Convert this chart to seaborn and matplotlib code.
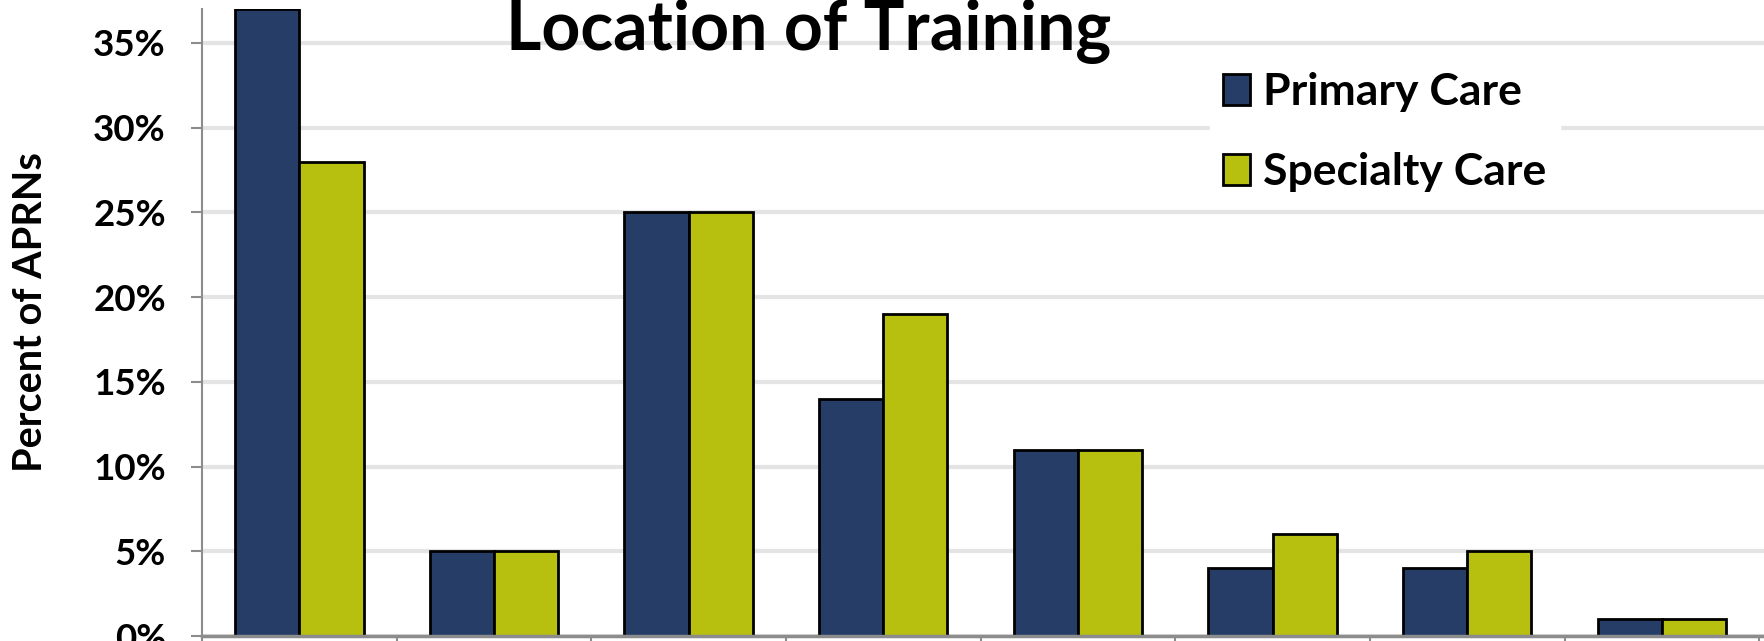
import numpy as np
import pandas as pd
import matplotlib
matplotlib.use('Agg')
import matplotlib.pyplot as plt
import seaborn as sns

# ------------------------
# Data (percent of APRNs)
# ------------------------
categories = ['Loc 1', 'Loc 2', 'Loc 3', 'Loc 4', 'Loc 5', 'Loc 6', 'Loc 7', 'Loc 8']
series_names = ['Primary Care', 'Specialty Care']
primary_care = [37, 5, 25, 14, 11, 4, 4, 1]
specialty_care = [28, 5, 25, 19, 11, 6, 5, 1]
y_ticks = [0, 5, 10, 15, 20, 25, 30, 35]

colors = ['#263D68', '#B7C00E']

df = pd.DataFrame({
    'category': categories * 2,
    'series': [series_names[0]] * len(categories) + [series_names[1]] * len(categories),
    'value': primary_care + specialty_care,
})

sns.set_style('white')
plt.rcParams['font.family'] = ['Lato', 'DejaVu Sans']
plt.rcParams['font.weight'] = 'bold'
plt.rcParams['text.color'] = 'black'
plt.rcParams['axes.labelcolor'] = 'black'
plt.rcParams['ytick.labelcolor'] = 'black'

fig = plt.figure(figsize=(17.65, 6.41), dpi=100)
ax = fig.add_axes([202 / 1765, 5 / 641, 1 - 202 / 1765, 627 / 641])

sns.barplot(data=df, x='category', y='value', hue='series', order=categories,
            hue_order=series_names, palette=colors, width=0.66, gap=0,
            edgecolor='black', linewidth=2, saturation=1, ax=ax)

ax.set_ylim(0, 37)
ax.set_xlim(-0.5, 7.53)
ax.set_yticks(y_ticks)
ax.set_yticklabels([f'{v}%' for v in y_ticks], fontsize=26.5, fontweight='bold', color='black')
ax.set_xticks(np.arange(-0.5, len(categories), 1))
ax.set_xticklabels([])
ax.set_xlabel('')
ax.set_ylabel('Percent of APRNs', fontsize=28.5, fontweight='bold', va='center', color='black')
ax.yaxis.set_label_coords(-0.1098, 0.517)

ax.set_axisbelow(True)
ax.yaxis.grid(True, color='#e4e4e4', linewidth=3)
ax.xaxis.grid(False)
ax.tick_params(axis='y', length=8, width=1.5, color='#8c8c8c', pad=18, left=True)
ax.tick_params(axis='x', length=5, width=1.5, color='#8c8c8c', bottom=True)
for side in ['top', 'right']:
    ax.spines[side].set_visible(False)
ax.spines['left'].set_color('#8c8c8c')
ax.spines['left'].set_linewidth(1.5)
ax.spines['bottom'].set_color('#8c8c8c')
ax.spines['bottom'].set_linewidth(2.5)

leg = ax.legend(loc='upper left', bbox_to_anchor=(1210 / 1765, 1 - 59 / 641),
                bbox_transform=fig.transFigure, fontsize=32, frameon=True,
                framealpha=1, facecolor='white', edgecolor='white',
                handlelength=0.6, handleheight=0.7, handletextpad=0.3,
                labelspacing=0.9, borderpad=0.3, borderaxespad=0, title=None)
for t in leg.get_texts():
    t.set_fontweight('bold')
    t.set_color('black')

fig.text(809 / 1765, 1 - 50 / 641, 'Location of Training', ha='center', va='baseline',
         fontsize=49, fontweight='bold', color='black')

fig.savefig('out.png', dpi=100)
